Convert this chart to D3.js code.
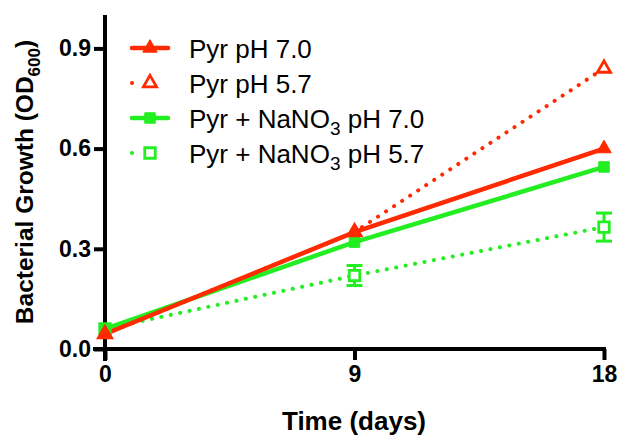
<!DOCTYPE html>
<html lang="en">
<head>
<meta charset="UTF-8">
<title>Bacterial growth</title>
<script src="https://d3js.org/d3.v7.min.js"></script>
<style>
  body { margin: 0; background: #fff; }
  text { font-family: "Liberation Sans", Arial, sans-serif; }
  .axis path, .axis line { stroke: #000; stroke-width: 4; }
  .axis text { font-size: 23px; font-weight: bold; fill: #000; }
</style>
</head>
<body>
<script>
const days = [0, 9, 18];
const xTicks = [0, 9, 18];
const yTicks = [0.0, 0.3, 0.6, 0.9];

const pyr70 = [0.045, 0.35, 0.60];
const pyr57 = [0.045, 0.35, 0.84];
const nano70 = [0.06, 0.32, 0.545];
const nano57 = [0.06, 0.22, 0.365];
const nano57Err = [0, 0.03, 0.042];

const seriesNames = ["Pyr pH 7.0", "Pyr pH 5.7", "Pyr + NaNO3 pH 7.0", "Pyr + NaNO3 pH 5.7"];

const red = "#ff2a00", green = "#22ee22";

const series = [
  {name: seriesNames[0], values: pyr70, color: red, dash: null, shape: d3.symbolTriangle, open: false},
  {name: seriesNames[1], values: pyr57, color: red, dash: "0.1 9.5", shape: d3.symbolTriangle, open: true},
  {name: seriesNames[2], values: nano70, color: green, dash: null, shape: d3.symbolSquare, open: false},
  {name: seriesNames[3], values: nano57, color: green, dash: "0.1 9.5", shape: d3.symbolSquare, open: true, err: nano57Err}
];

const width = 621, height = 441;
const svg = d3.select("body").append("svg").attr("width", width).attr("height", height);

const x = d3.scaleLinear().domain([0, 18]).range([105, 604]);
const y = d3.scaleLinear().domain([0, 1.0]).range([349, 15]);

// axes
const xAxis = svg.append("g").attr("class", "axis").attr("transform", "translate(0,349)")
  .call(d3.axisBottom(x).tickValues(xTicks).tickFormat(d3.format("d")).tickSize(11).tickSizeOuter(0).tickPadding(6));
xAxis.select(".domain").attr("d", `M${x(0) - 12},0H${x(18) + 2}`);

const yAxis = svg.append("g").attr("class", "axis").attr("transform", "translate(105,0)")
  .call(d3.axisLeft(y).tickValues(yTicks).tickFormat(d3.format(".1f")).tickSize(11).tickSizeOuter(0).tickPadding(3));
yAxis.select(".domain").attr("d", `M0,${y(1.0)}V${y(0) + 12}`);

// lines (first series on top)
const line = d3.line().x((d, i) => x(days[i])).y(d => y(d));
const plot = svg.append("g");
series.slice().reverse().forEach(s => {
  plot.append("path").attr("d", line(s.values))
    .attr("fill", "none").attr("stroke", s.color)
    .attr("stroke-width", s.dash ? 4 : 4.5)
    .attr("stroke-linecap", "round")
    .attr("stroke-dasharray", s.dash);
});

function marker(g, s, cx, cy) {
  const size = s.shape === d3.symbolTriangle ? (s.open ? 75 : 90) : 110;
  const sym = d3.symbol().type(s.shape).size(size);
  g.append("path").attr("d", sym())
    .attr("transform", `translate(${cx},${cy})`)
    .attr("fill", s.open ? "#fff" : s.color)
    .attr("stroke", s.color)
    .attr("stroke-width", s.open ? 2.8 : 1);
}

// error bars + markers
series.slice().reverse().forEach(s => {
  s.values.forEach((v, i) => {
    if (s.err && s.err[i] > 0) {
      const e = s.err[i], cx = x(days[i]);
      const g = plot.append("g").attr("stroke", s.color).attr("stroke-width", 3);
      g.append("line").attr("x1", cx).attr("x2", cx).attr("y1", y(v + e)).attr("y2", y(v - e));
      [v + e, v - e].forEach(t => g.append("line").attr("x1", cx - 8).attr("x2", cx + 8).attr("y1", y(t)).attr("y2", y(t)));
    }
    marker(plot, s, x(days[i]), y(v));
  });
});

// legend
const legend = svg.append("g");
series.forEach((s, i) => {
  const ly = 48 + i * 35;
  legend.append("line").attr("x1", 132).attr("x2", 168).attr("y1", ly).attr("y2", ly)
    .attr("stroke", s.color).attr("stroke-width", s.dash ? 4 : 4.5)
    .attr("stroke-linecap", "round").attr("stroke-dasharray", s.dash ? "0.1 35.9" : null);
  marker(legend, s, 150, ly);
  const t = legend.append("text").attr("x", 189).attr("y", ly + 10).attr("font-size", 26);
  if (s.name.includes("NaNO3")) {
    const parts = s.name.split("NaNO3");
    t.append("tspan").text(parts[0] + "NaNO");
    t.append("tspan").attr("font-size", 19).attr("dy", 7).text("3");
    t.append("tspan").attr("dy", -7).text(parts[1]);
  } else {
    t.text(s.name);
  }
});

// axis titles
svg.append("text").attr("x", 354).attr("y", 430).attr("text-anchor", "middle")
  .attr("font-size", 26).attr("font-weight", "bold").text("Time (days)");

const yl = svg.append("text").attr("transform", "translate(33,182) rotate(-90)")
  .attr("text-anchor", "middle").attr("font-size", 24.5).attr("font-weight", "bold");
yl.append("tspan").text("Bacterial Growth (OD");
yl.append("tspan").attr("font-size", 17).attr("dy", 7).text("600");
yl.append("tspan").attr("dy", -7).text(")");
</script>
</body>
</html>
